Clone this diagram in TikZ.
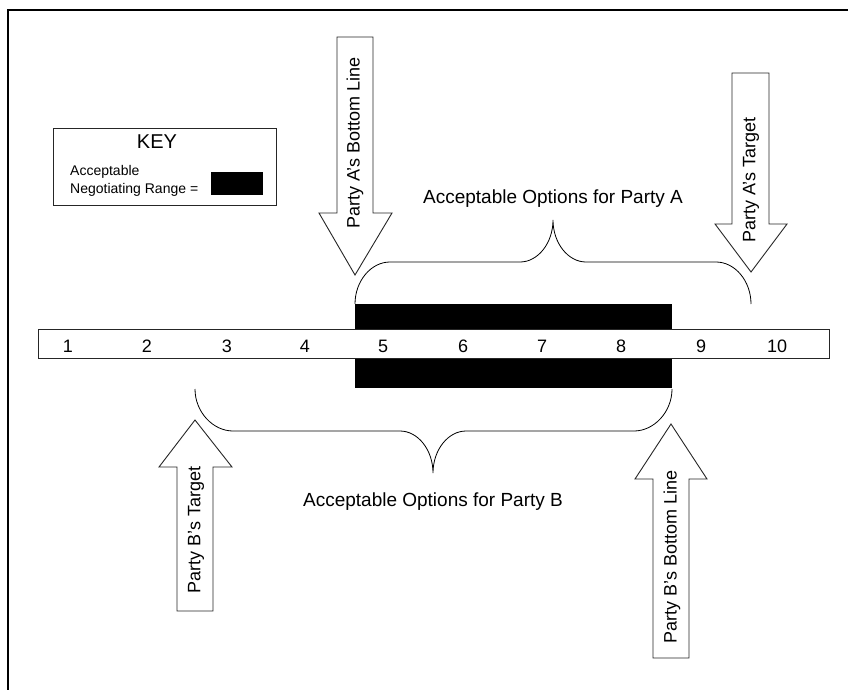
\documentclass[tikz,border=0pt]{standalone}
\usepackage{fontspec}
\setmainfont{Liberation Sans}
\begin{document}
\begin{tikzpicture}[x=1pt,y=-1pt]
\tikzset{
  outl/.style={draw=black!85, line width=0.9pt},
  frameline/.style={draw=black, line width=1.6pt},
  bracepath/.style={draw=black, line width=0.8pt},
  blockarrow/.style={draw=black!85, line width=0.9pt, fill=white, line join=miter},
  lbl/.style={inner sep=0pt, font=\fontsize{18}{20}\selectfont},
  optlbl/.style={inner sep=0pt, anchor=base, font=\fontsize{19}{21}\selectfont},
  numlbl/.style={inner sep=0pt, anchor=base, font=\fontsize{18}{20}\selectfont},
  keysmall/.style={inner sep=0pt, anchor=base west, font=\fontsize{14}{16}\selectfont},
}
\useasboundingbox (0,0) rectangle (848,690);
% frame
\coordinate (fbl) at (8,690);
\coordinate (ftl) at (8,10);
\coordinate (ftr) at (848,10);
\draw[frameline] (fbl) -- (ftl) -- (ftr);

% key
\node[outl, anchor=north west, minimum width=223pt, minimum height=77pt, inner sep=0pt] (key) at (53,128) {};
\node[inner sep=0pt, anchor=base, font=\fontsize{20}{22}\selectfont] (keyt) at (157,149) {KEY};
\node[keysmall] (keya) at (70,175) {Acceptable};
\node[keysmall] (keyb) at (70,193) {Negotiating Range =};
\node[fill=black, anchor=north west, minimum width=52pt, minimum height=23pt, inner sep=0pt] (keyblk) at (211,172) {};

% range and scale bar
\node[fill=black, anchor=north west, minimum width=317pt, minimum height=84pt, inner sep=0pt] (range) at (355,304) {};
\node[outl, fill=white, anchor=north west, minimum width=791pt, minimum height=29pt, inner sep=0pt] (bar) at (38,329) {};
\foreach \n/\x in {1/68,2/147,3/227,4/305,5/383,6/463,7/542,8/621,9/701,10/777}
  \node[numlbl] (n\n) at (\x,352) {\n};

% brace A
\draw[bracepath] (355,304) .. controls (355,281) and (371,262) .. (390,262)
  -- (520,262) .. controls (538,262) and (553,243) .. (553,220)
  .. controls (553,243) and (568,262) .. (586,262)
  -- (716,262) .. controls (735,262) and (751,281) .. (751,304);
\node[optlbl] (optA) at (553,203) {Acceptable Options for Party A};

% brace B
\draw[bracepath] (195,389) .. controls (195,412) and (213,431) .. (233,431)
  -- (400,431) .. controls (418,431) and (433,450) .. (433,473)
  .. controls (433,450) and (448,431) .. (466,431)
  -- (634,431) .. controls (654,431) and (672,412) .. (672,389);
\node[optlbl] (optB) at (433,506) {Acceptable Options for Party B};

% Party A's bottom line arrow
\draw[blockarrow] (337,37) -- (373,37) -- (373,213) -- (392,213) -- (355,275) -- (319,213) -- (337,213) -- cycle;
\node[lbl, rotate=90] (aBL) at (355,143) {Party A’s Bottom Line};

% Party A's target arrow
\draw[blockarrow] (732,73) -- (769,73) -- (769,224) -- (787,224) -- (751,272) -- (715,224) -- (732,224) -- cycle;
\node[lbl, rotate=90] (aT) at (751,180) {Party A’s Target};

% Party B's target arrow
\draw[blockarrow] (177,611) -- (213,611) -- (213,467) -- (232,467) -- (195,420) -- (159,467) -- (177,467) -- cycle;
\node[lbl, rotate=90] (bT) at (196,530) {Party B’s Target};

% Party B's bottom line arrow
\draw[blockarrow] (653,658) -- (689,658) -- (689,479) -- (707,479) -- (671,424) -- (635,479) -- (653,479) -- cycle;
\node[lbl, rotate=90] (bBL) at (672,557) {Party B’s Bottom Line};
\end{tikzpicture}
\end{document}
